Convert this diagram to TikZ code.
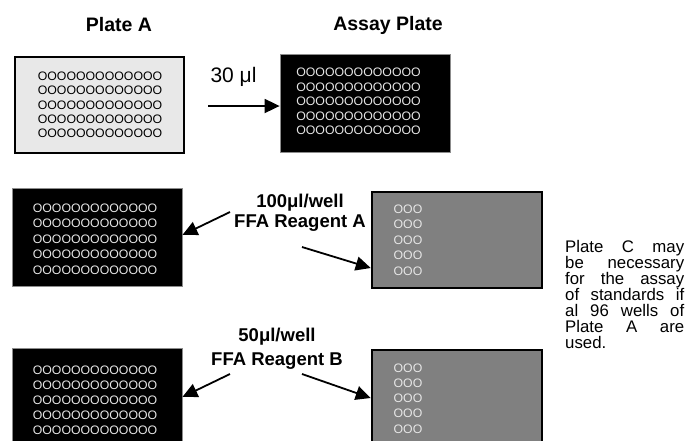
\documentclass[tikz,border=0pt]{standalone}
\usepackage{fontspec}
\setmainfont{Liberation Sans}
\usetikzlibrary{arrows.meta,calc}
\definecolor{plategray}{HTML}{E8E8E8}
\definecolor{midgray}{HTML}{808080}
\definecolor{wellwhite}{HTML}{E6E6E6}
\tikzset{
  plateA/.style={draw=black,line width=2pt,fill=plategray,minimum width=169pt,minimum height=96pt,inner sep=0pt},
  blackplate/.style={draw=black!45,line width=0.8pt,fill=black,minimum width=170pt,minimum height=98pt,inner sep=0pt},
  grayplate/.style={draw=black,line width=2.5pt,fill=midgray,minimum width=170pt,minimum height=96pt,inner sep=0pt},
  wells/.style={inner sep=0pt,align=left,font=\fontsize{12.3}{14.3}\selectfont},
  wellsw/.style={wells,text=wellwhite},
  title/.style={inner sep=0pt,font=\fontsize{19.5}{22}\selectfont\bfseries},
  lbl/.style={inner sep=0pt,align=center,font=\fontsize{18.5}{20}\selectfont\bfseries},
  arr/.style={line width=1.8pt,-{Triangle[length=15pt,width=14pt]}}
}
\newcommand{\wrow}{OOOOOOOOOOOOO}
\newcommand{\wsmall}{OOO}
\newcommand{\notefont}{\fontsize{16.8}{16}\selectfont\lineskiplimit=-50pt\relax}
\begin{document}
\begin{tikzpicture}[x=1pt,y=-1pt]
\useasboundingbox (0,0) rectangle (687,440);
\clip (0,0) rectangle (687,440);
% titles
\node[title] (tA) at (119,25) {Plate A};
\node[title] (tB) at (388,25) {Assay Plate};
% plate A with assay plate
\node[plateA] (pA) at (99.5,105) {};
\node[wells] (wA) at (100,105) {\wrow\\\wrow\\\wrow\\\wrow\\\wrow};
\node[blackplate] (pB) at (365,103.5) {};
\node[wellsw,font=\fontsize{12.3}{14.5}\selectfont] (wB) at (358.5,101.7) {\wrow\\\wrow\\\wrow\\\wrow\\\wrow};
\node[inner sep=0pt,font=\fontsize{21}{24}\selectfont] (v30) at (233.5,77) {30 μl};
\coordinate (s0) at (208,106);
\draw[arr] (s0) -- (s0 -| pB.west);
% row 2
\node[blackplate] (b1) at (97,237) {};
\node[wellsw,font=\fontsize{12.3}{15.4}\selectfont] (wb1) at (95,239) {\wrow\\\wrow\\\wrow\\\wrow\\\wrow};
\node[grayplate] (g1) at (457,240) {};
\node[wellsw,font=\fontsize{12.3}{15.4}\selectfont] (wg1) at (408,240) {\wsmall\\\wsmall\\\wsmall\\\wsmall\\\wsmall};
\node[lbl,font=\fontsize{18.5}{20}\selectfont\bfseries] (l1) at (300,213) {100μl/well\\FFA Reagent A};
\coordinate (s1) at (230,212);
\coordinate (s2) at (302,247);
\draw[arr] (s1) -- ($(b1.east)+(0,-2)$);
\draw[arr] (s2) -- ($(g1.west)+(0,28)$);
% row 3
\node[blackplate] (b2) at (97,397) {};
\node[wellsw,font=\fontsize{12.3}{15}\selectfont] (wb2) at (95,400) {\wrow\\\wrow\\\wrow\\\wrow\\\wrow};
\node[grayplate] (g2) at (457,398) {};
\node[wellsw,font=\fontsize{12.3}{15.2}\selectfont] (wg2) at (408,398.5) {\wsmall\\\wsmall\\\wsmall\\\wsmall\\\wsmall};
\node[lbl,font=\fontsize{18.5}{24}\selectfont\bfseries] (l2) at (277,349) {50μl/well\\FFA Reagent B};
\coordinate (s3) at (230,374);
\coordinate (s4) at (302,374);
\draw[arr] (s3) -- ($(b2.east)+(0,0)$);
\draw[arr] (s4) -- ($(g2.west)+(0,0)$);
% side note
\node[inner sep=0pt,anchor=north west,align=left,font=\notefont] (note) at (565,240)
{\makebox[119pt][s]{Plate C may}\\
 \makebox[119pt][s]{be necessary}\\
 \makebox[119pt][s]{for the assay}\\
 \makebox[119pt][s]{of standards if}\\
 \makebox[119pt][s]{al 96 wells of}\\
 \makebox[119pt][s]{Plate A are}\\
 used.};
\end{tikzpicture}
\end{document}
